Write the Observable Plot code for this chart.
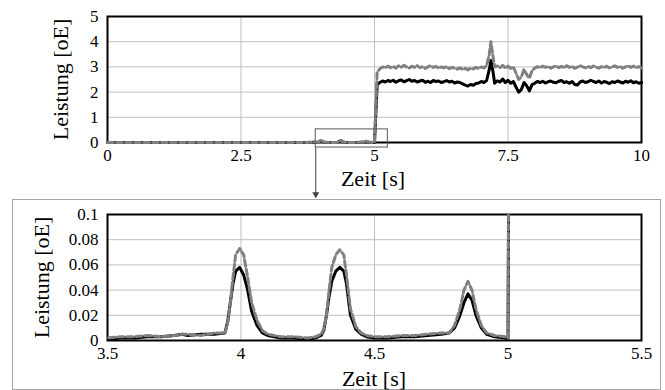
<!DOCTYPE html>
<html>
<head>
<meta charset="utf-8">
<script src="https://cdn.jsdelivr.net/npm/d3@7"></script>
<script src="https://cdn.jsdelivr.net/npm/@observablehq/plot@0.6"></script>
<style>
  body { margin: 0; background: #fff; font-family: 'Liberation Serif'; font-size: 17px; }
  #wrap { position: relative; width: 665px; height: 390px; background: #fff; }
  #box { position: absolute; left: 12px; top: 199px; width: 647px; height: 189px; border: 1px solid #a6a6a6; }
  #topc { position: absolute; left: 0; top: 0; width: 665px; }
  #botc { position: absolute; left: 0; top: 200px; width: 665px; }
  .lab { position: absolute; width: 200px; height: 25px; line-height: 25px; text-align: center;
         font-family: 'Liberation Serif'; font-size: 22px; color: #000; white-space: nowrap; }
  .rot { transform: rotate(-90deg); }
</style>
</head>
<body>
<div id="wrap">
  <div id="box"></div>
  <div id="topc"></div>
  <div id="botc"></div>
  <div class="lab" id="xl1" style="left:273px; top:166px;"></div>
  <div class="lab rot" id="yl1" style="left:-40px; top:67px;"></div>
  <div class="lab" id="xl2" style="left:274px; top:366px;"></div>
  <div class="lab rot" id="yl2" style="left:-59px; top:265px;"></div>
</div>
<script>
// ---- data ----
const earlyTime  = [0, 1, 2, 3];
const earlyBlack = [0.002, 0.002, 0.002, 0.002];
const earlyGray  = [0.002, 0.002, 0.003, 0.003];

const zoomTime  = [3.5, 3.55, 3.6, 3.65, 3.7, 3.75, 3.78, 3.8, 3.85, 3.9, 3.94, 3.95, 3.96, 3.97, 3.98, 3.995, 4.01, 4.025, 4.04, 4.06, 4.08, 4.1, 4.15, 4.2, 4.25, 4.28, 4.3, 4.31, 4.32, 4.33, 4.34, 4.355, 4.37, 4.385, 4.395, 4.41, 4.43, 4.45, 4.47, 4.5, 4.55, 4.6, 4.65, 4.7, 4.75, 4.78, 4.8, 4.82, 4.835, 4.85, 4.865, 4.88, 4.9, 4.92, 4.95, 4.99, 5.0];
const zoomBlack = [0.001, 0.002, 0.002, 0.003, 0.003, 0.004, 0.005, 0.004, 0.005, 0.005, 0.006, 0.015, 0.03, 0.045, 0.055, 0.058, 0.052, 0.04, 0.023, 0.012, 0.006, 0.004, 0.002, 0.002, 0.001, 0.002, 0.004, 0.008, 0.02, 0.035, 0.047, 0.055, 0.058, 0.055, 0.045, 0.02, 0.009, 0.005, 0.003, 0.002, 0.002, 0.003, 0.003, 0.004, 0.005, 0.006, 0.01, 0.02, 0.03, 0.037, 0.032, 0.02, 0.01, 0.005, 0.003, 0.002, 0.001];
const zoomGray  = [0.002, 0.003, 0.003, 0.004, 0.003, 0.004, 0.005, 0.005, 0.004, 0.006, 0.006, 0.014, 0.03, 0.05, 0.068, 0.073, 0.068, 0.05, 0.03, 0.016, 0.008, 0.005, 0.003, 0.003, 0.002, 0.003, 0.005, 0.009, 0.02, 0.04, 0.058, 0.068, 0.072, 0.068, 0.052, 0.025, 0.011, 0.006, 0.004, 0.003, 0.003, 0.004, 0.004, 0.005, 0.006, 0.006, 0.012, 0.025, 0.04, 0.047, 0.04, 0.025, 0.012, 0.006, 0.004, 0.003, 0.002];

const runTime = [
  5.05, 5.10, 5.15, 5.20, 5.25, 5.30, 5.35, 5.40, 5.45, 5.50, 5.55, 5.60, 5.65, 5.70, 5.75, 5.80, 5.85, 5.90, 5.95,
  6.00, 6.05, 6.10, 6.15, 6.20, 6.25, 6.30, 6.35, 6.40, 6.45, 6.50, 6.55, 6.60, 6.65, 6.70, 6.75, 6.80, 6.85, 6.90, 6.95,
  7.00, 7.05, 7.10, 7.15, 7.18, 7.22, 7.25, 7.30, 7.35, 7.40, 7.45, 7.50, 7.55, 7.60, 7.65, 7.70, 7.75, 7.80, 7.85, 7.90, 7.95,
  8.00, 8.05, 8.10, 8.15, 8.20, 8.25, 8.30, 8.35, 8.40, 8.45, 8.50, 8.55, 8.60, 8.65, 8.70, 8.75, 8.80, 8.85, 8.90, 8.95,
  9.00, 9.05, 9.10, 9.15, 9.20, 9.25, 9.30, 9.35, 9.40, 9.45, 9.50, 9.55, 9.60, 9.65, 9.70, 9.75, 9.80, 9.85, 9.90, 9.95,
  10.00];
const runBlack = [
  2.30, 2.38, 2.44, 2.40, 2.46, 2.42, 2.47, 2.39, 2.45, 2.48, 2.41, 2.45, 2.50, 2.43, 2.46, 2.40, 2.44, 2.47, 2.39,
  2.43, 2.38, 2.46, 2.42, 2.44, 2.38, 2.41, 2.46, 2.40, 2.43, 2.36, 2.40, 2.38, 2.33, 2.28, 2.24, 2.30, 2.27, 2.34, 2.36,
  2.42, 2.38, 2.46, 2.90, 3.25, 2.80, 2.35, 2.45, 2.40, 2.52, 2.38, 2.47, 2.35, 2.42, 2.20, 2.00, 2.10, 2.38, 2.25, 2.05, 2.30,
  2.35, 2.42, 2.38, 2.43, 2.36, 2.41, 2.44, 2.39, 2.37, 2.43, 2.46, 2.38, 2.41, 2.35, 2.42, 2.30, 2.28, 2.40, 2.44, 2.38,
  2.41, 2.47, 2.42, 2.38, 2.44, 2.36, 2.42, 2.39, 2.34, 2.41, 2.38, 2.44, 2.40, 2.36, 2.43, 2.39, 2.45, 2.37, 2.41, 2.35,
  2.38];
const runGray = [
  2.80, 2.92, 3.00, 2.96, 3.03, 2.97, 3.02, 2.95, 3.04, 2.99, 3.06, 3.00, 2.96, 3.03, 2.98, 3.05, 2.97, 3.01, 2.94,
  3.00, 3.05, 2.98, 3.02, 2.95, 3.00, 2.96, 3.01, 2.93, 2.98, 2.95, 2.91, 2.96, 2.90, 2.94, 2.88, 2.95, 2.92, 2.98, 2.94,
  3.00, 2.96, 3.05, 3.50, 4.00, 3.40, 3.00, 3.04, 2.97, 3.06, 2.95, 3.03, 2.94, 3.00, 2.75, 2.50, 2.60, 2.90, 2.70, 2.55, 2.85,
  2.95, 3.01, 2.97, 3.03, 2.98, 3.02, 2.95, 3.00, 3.04, 2.97, 3.02, 2.96, 3.05, 2.98, 3.02, 2.94, 2.99, 3.05, 3.00, 2.96,
  3.02, 2.97, 3.04, 2.99, 2.95, 3.01, 2.97, 3.03, 2.96, 3.00, 3.04, 2.98, 3.02, 2.95, 3.00, 3.04, 2.98, 3.03, 2.97, 3.01,
  2.96];

// axes
const topXTicks = [0, 2.5, 5, 7.5, 10];
const topYTicks = [0, 1, 2, 3, 4, 5];
const botXTicks = [3.5, 4, 4.5, 5, 5.5];
const botYTicks = [0, 0.02, 0.04, 0.06, 0.08, 0.1];
const xLabel = "Zeit [s]";
const yLabel = "Leistung [oE]";

// zoom-window annotation in the top chart (data units)
const zoomWindow = [{x1: 3.9, x2: 5.25, y1: -0.2, y2: 0.52}];
const zoomArrow  = [{x: 3.9, y1: -0.2, y2: -2.05}];

function series(times, values) { return times.map((t, i) => ({t, v: values[i]})); }
const blackAll = series([...earlyTime, ...zoomTime, ...runTime], [...earlyBlack, ...zoomBlack, ...runBlack]);
const grayAll  = series([...earlyTime, ...zoomTime, ...runTime], [...earlyGray, ...zoomGray, ...runGray]);

const GRID = "#bfbfbf";
const GRAY = "#808080";
const FONT = "Liberation Serif";

function chart({height, marginTop, marginBottom, xDomain, yDomain, xTicks, yTicks, clip, extra}) {
  return Plot.plot({
    width: 665, height, marginLeft: 107, marginRight: 24, marginTop, marginBottom,
    style: {fontFamily: FONT, fontSize: "17px", background: "transparent", overflow: "visible", maxWidth: "none"},
    x: {domain: xDomain},
    y: {domain: yDomain},
    marks: [
      Plot.gridX(xTicks, {stroke: GRID, strokeOpacity: 1, strokeWidth: 1}),
      Plot.gridY(yTicks, {stroke: GRID, strokeOpacity: 1, strokeWidth: 1}),
      Plot.axisX({ticks: xTicks, tickSize: 0, tickPadding: 6, tickFormat: d => String(d),
                  fontFamily: FONT, fontSize: 17, label: null}),
      Plot.axisY({ticks: yTicks, tickSize: 0, tickPadding: 9, tickFormat: d => String(d),
                  fontFamily: FONT, fontSize: 17, label: null}),
      Plot.frame({stroke: "black", strokeWidth: 2}),
      Plot.line(blackAll, {x: "t", y: "v", stroke: "black", strokeWidth: 3, clip}),
      Plot.line(grayAll, {x: "t", y: "v", stroke: GRAY, strokeWidth: 3, strokeDasharray: "6,3", clip}),
      ...(extra || [])
    ]
  });
}

const topChart = chart({
  height: 200, marginTop: 16, marginBottom: 58,
  xDomain: [0, 10], yDomain: [0, 5], xTicks: topXTicks, yTicks: topYTicks, clip: false,
  extra: [
    Plot.rect(zoomWindow, {x1: "x1", x2: "x2", y1: "y1", y2: "y2", fill: "none", stroke: "#595959", strokeWidth: 1}),
    Plot.link(zoomArrow, {x1: "x", x2: "x", y1: "y1", y2: "y2", stroke: "#404040", strokeWidth: 1}),
    Plot.dot(zoomArrow, {x: "x", y: "y2", symbol: "triangle", rotate: 180, r: 2.6, fill: "#404040", stroke: "none"})
  ]
});
const botChart = chart({
  height: 190, marginTop: 14, marginBottom: 50,
  xDomain: [3.5, 5.5], yDomain: [0, 0.1], xTicks: botXTicks, yTicks: botYTicks, clip: true
});
document.getElementById("topc").appendChild(topChart);
document.getElementById("botc").appendChild(botChart);

// axis titles as HTML text
document.getElementById("xl1").textContent = xLabel;
document.getElementById("xl2").textContent = xLabel;
document.getElementById("yl1").textContent = yLabel;
document.getElementById("yl2").textContent = yLabel;
</script>
</body>
</html>
